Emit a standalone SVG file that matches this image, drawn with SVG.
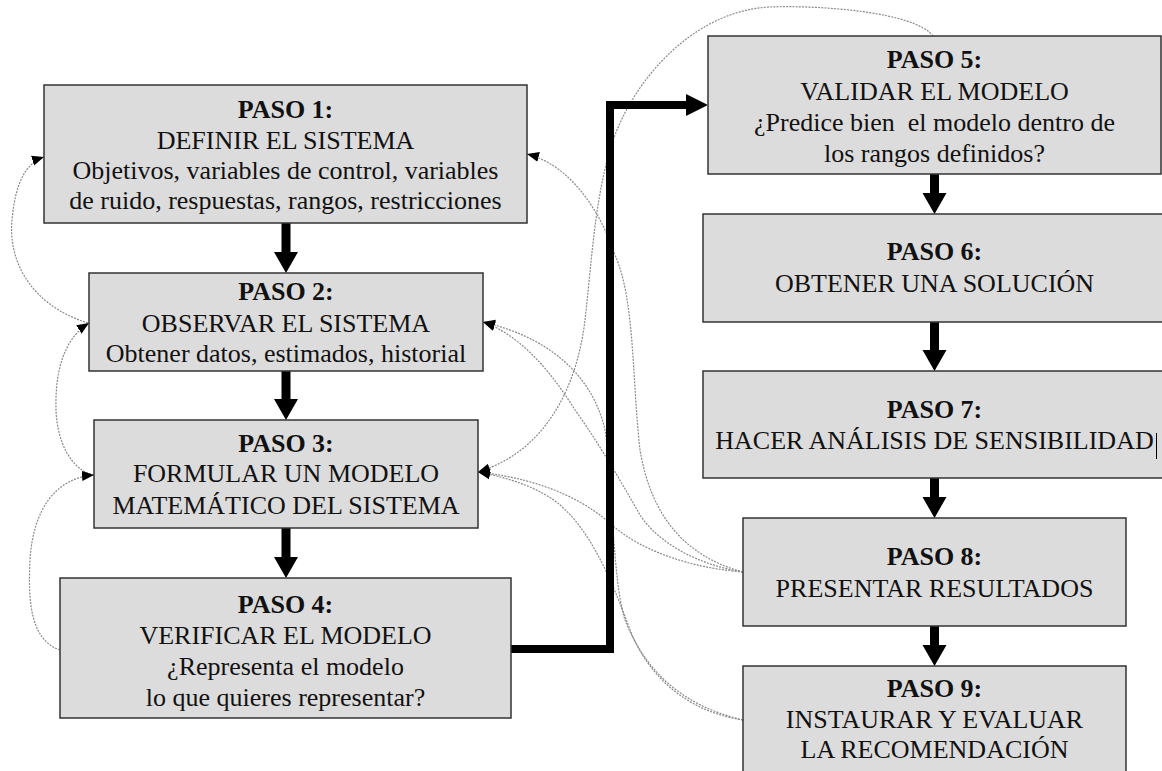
<svg xmlns="http://www.w3.org/2000/svg" width="1162" height="771" viewBox="0 0 1162 771">
<style>
.box{fill:#dcdcdc;stroke:#333;stroke-width:1.5}
text{font-family:"Liberation Serif","Times New Roman",serif;font-size:26px;fill:#111;text-anchor:middle}
.b{font-weight:bold}
.fb{fill:none;stroke:#8a8a8a;stroke-width:1.2;stroke-dasharray:2 1.2}
.thick{fill:none;stroke:#000;stroke-width:8}
.head{fill:#000}
</style>
<defs>
<marker id="ah" markerUnits="userSpaceOnUse" markerWidth="12" markerHeight="12" viewBox="0 0 10 10" refX="10" refY="5" orient="auto">
<path d="M0,0.8 L10,5 L0,9.2 Z" fill="#000"/>
</marker>
</defs>
<rect width="1162" height="771" fill="#fff"/>
<g id="connectors">
<path class="fb" marker-end="url(#ah)" d="M88,323 C30,305 8,260 12,220 C15,185 25,163 44,157"/>
<path class="fb" marker-end="url(#ah)" d="M94,475 C70,470 57,440 56,410 C55,375 62,340 89,323"/>
<path class="fb" marker-end="url(#ah)" d="M60,650 C30,640 28,600 30,560 C33,510 55,478 94,475"/>
<path class="fb" marker-end="url(#ah)" d="M933,36 C915,12 820,5 770,7 C700,10 640,70 615,135 C595,190 592,260 585,320 C578,380 550,450 478,472"/>
<path class="fb" marker-end="url(#ah)" d="M743,572 C680,555 650,510 640,450 C632,380 635,300 615,255 C600,210 570,165 527,154"/>
<path class="fb" marker-end="url(#ah)" d="M743,572 C700,565 660,545 640,515 C620,480 600,445 575,410 C550,370 520,335 483,322"/>
<path class="fb" marker-end="url(#ah)" d="M743,572 C690,568 640,550 612,525 C590,505 550,480 478,472"/>
<path class="fb" marker-end="url(#ah)" d="M743,720 C690,712 650,680 630,630 C612,580 590,530 560,505 C540,488 510,478 478,472"/>
<path class="fb" marker-end="url(#ah)" d="M743,720 C680,705 645,670 625,620 C612,580 612,470 605,430 C595,385 560,340 483,322"/>
<polyline class="thick" points="511,649 610,649 610,105 690,105"/>
<polygon class="head" points="686,94 708,105 686,116"/>
<polygon class="head" points="281.5,223 290.5,223 290.5,252 298,252 286,273 274,252 281.5,252"/>
<polygon class="head" points="281.5,371 290.5,371 290.5,399 298,399 286,420 274,399 281.5,399"/>
<polygon class="head" points="281.5,528 290.5,528 290.5,557 298,557 286,578 274,557 281.5,557"/>
<polygon class="head" points="930,174 939,174 939,193 946.5,193 934.5,214 922.5,193 930,193"/>
<polygon class="head" points="930,322 939,322 939,350 946.5,350 934.5,371 922.5,350 930,350"/>
<polygon class="head" points="930,478 939,478 939,497 946.5,497 934.5,518 922.5,497 930,497"/>
<polygon class="head" points="930,626 939,626 939,645 946.5,645 934.5,666 922.5,645 930,645"/>
</g>
<g id="paso1">
<rect class="box" x="44" y="85" width="483" height="138"/>
<text x="285.5" y="118" class="b">PASO 1:</text>
<text x="285.5" y="148.5">DEFINIR EL SISTEMA</text>
<text x="285.5" y="179">Objetivos, variables de control, variables</text>
<text x="285.5" y="209">de ruido, respuestas, rangos, restricciones</text>
</g>
<g id="paso2">
<rect class="box" x="89" y="273" width="394" height="98"/>
<text x="286" y="300" class="b">PASO 2:</text>
<text x="286" y="332">OBSERVAR EL SISTEMA</text>
<text x="286" y="362">Obtener datos, estimados, historial</text>
</g>
<g id="paso3">
<rect class="box" x="94" y="420" width="384" height="108"/>
<text x="286" y="452" class="b">PASO 3:</text>
<text x="286" y="482">FORMULAR UN MODELO</text>
<text x="286" y="514">MATEMÁTICO DEL SISTEMA</text>
</g>
<g id="paso4">
<rect class="box" x="60" y="578" width="451" height="140"/>
<text x="285.5" y="613" class="b">PASO 4:</text>
<text x="285.5" y="644">VERIFICAR EL MODELO</text>
<text x="285.5" y="675">¿Representa el modelo</text>
<text x="285.5" y="706">lo que quieres representar?</text>
</g>
<g id="paso5">
<rect class="box" x="708" y="36" width="453" height="138"/>
<text x="934.5" y="68" class="b">PASO 5:</text>
<text x="934.5" y="100">VALIDAR EL MODELO</text>
<text x="934.5" y="131" xml:space="preserve" style="white-space:pre">¿Predice bien  el modelo dentro de</text>
<text x="934.5" y="162">los rangos definidos?</text>
</g>
<g id="paso6">
<rect class="box" x="703" y="214" width="465" height="108"/>
<text x="934.5" y="260" class="b">PASO 6:</text>
<text x="934.5" y="292">OBTENER UNA SOLUCIÓN</text>
</g>
<g id="paso7">
<rect class="box" x="703" y="371" width="465" height="107"/>
<text x="934.5" y="418" class="b">PASO 7:</text>
<text x="934.5" y="449">HACER ANÁLISIS DE SENSIBILIDAD</text>
<line x1="1156.5" y1="433" x2="1156.5" y2="459" stroke="#000" stroke-width="1"/>
</g>
<g id="paso8">
<rect class="box" x="743" y="518" width="383" height="108"/>
<text x="934.5" y="565" class="b">PASO 8:</text>
<text x="934.5" y="597">PRESENTAR RESULTADOS</text>
</g>
<g id="paso9">
<rect class="box" x="743" y="666" width="383" height="115"/>
<text x="934.5" y="697" class="b">PASO 9:</text>
<text x="934.5" y="728">INSTAURAR Y EVALUAR</text>
<text x="934.5" y="758">LA RECOMENDACIÓN</text>
</g>
</svg>
